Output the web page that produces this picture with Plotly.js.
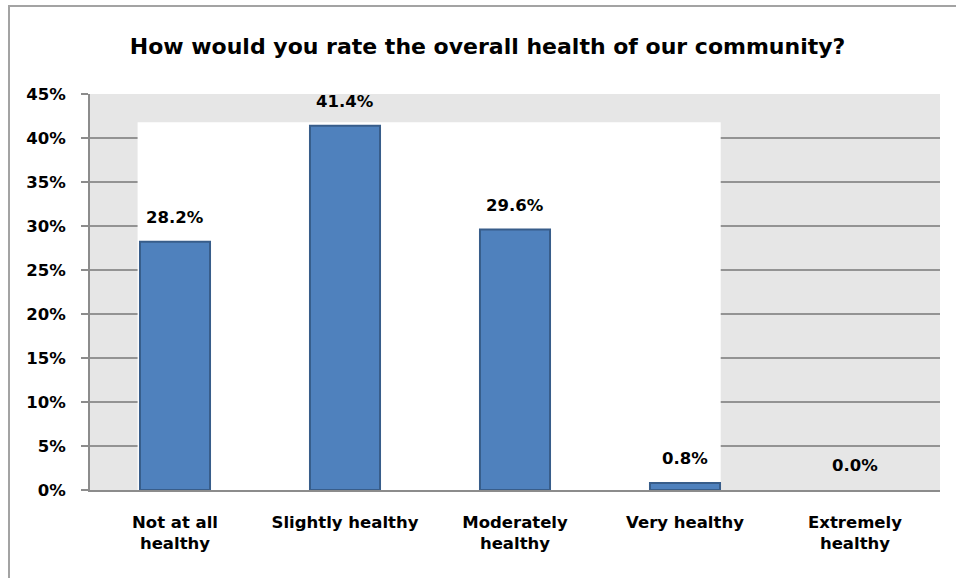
<!DOCTYPE html>
<html>
<head>
<meta charset="utf-8">
<script src="https://cdn.plot.ly/plotly-3.0.1.min.js"></script>
<style>
  html, body { margin: 0; padding: 0; background: #ffffff; overflow: hidden; }
  #chart { width: 956px; height: 578px; position: absolute; left: 0; top: 0; }
  #frame { position: absolute; left: 8px; top: 5px; width: 1200px; height: 1000px;
           border-left: 2px solid #a3a3a3; border-top: 2px solid #a3a3a3; pointer-events: none; }
</style>
</head>
<body>
<div id="chart"></div>
<div id="frame"></div>
<script>
const categories = ["Not at all<br>healthy", "Slightly healthy", "Moderately<br>healthy", "Very healthy", "Extremely<br>healthy"];
const values = [28.2, 41.4, 29.6, 0.8, 0.0];
const labels = ["28.2%", "41.4%", "29.6%", "0.8%", "0.0%"];
const tickVals = [0, 5, 10, 15, 20, 25, 30, 35, 40, 45];
const tickText = ["0%", "5%", "10%", "15%", "20%", "25%", "30%", "35%", "40%", "45%"];

const FONT = "DejaVu Sans, sans-serif";

const trace = {
  type: "bar",
  x: categories,
  y: values,
  marker: {
    color: "#4f81bd",
    line: { color: "#385d8a", width: values.map(v => (v > 0 ? 2 : 0)) }
  },
  hoverinfo: "none"
};

const annotations = categories.map((c, i) => ({
  x: c, y: values[i], xref: "x", yref: "y",
  text: "<b>" + labels[i] + "</b>",
  showarrow: false, yanchor: "bottom", yshift: 13,
  font: { family: FONT, size: 16.5, color: "#000000" }
}));

const layout = {
  width: 956, height: 578,
  margin: { l: 90, r: 16, t: 94, b: 88 },
  paper_bgcolor: "#ffffff",
  plot_bgcolor: "#e6e6e6",
  showlegend: false,
  bargap: 0.588,
  title: {
    text: "<b>How would you rate the overall health of our community?</b>",
    font: { family: FONT, size: 22, color: "#000000" },
    xref: "container", x: 0.51, xanchor: "center",
    yref: "container", y: 1 - 46 / 578, yanchor: "middle"
  },
  xaxis: {
    type: "category",
    showgrid: false,
    showline: true, linecolor: "#8c8c8c", linewidth: 2,
    ticks: "", ticklabelstandoff: 16,
    tickfont: { family: FONT, size: 16.5, color: "#000000", weight: "bold" },
    fixedrange: true
  },
  yaxis: {
    range: [0, 45],
    tickvals: tickVals, ticktext: tickText,
    tickfont: { family: FONT, size: 16.5, color: "#000000", weight: "bold" },
    showgrid: true, gridcolor: "#939393", gridwidth: 2,
    showline: true, linecolor: "#8c8c8c", linewidth: 2,
    ticks: "outside", ticklen: 7, tickcolor: "#8c8c8c", tickwidth: 2,
    ticklabelstandoff: 12,
    zeroline: false,
    fixedrange: true
  },
  shapes: [{
    type: "rect", xref: "x", yref: "y",
    x0: -0.22, x1: 3.21, y0: 0, y1: 41.8,
    fillcolor: "#ffffff", line: { width: 0 }, layer: "between"
  }],
  annotations: annotations
};

Plotly.newPlot("chart", [trace], layout, { displayModeBar: false, staticPlot: true });
</script>
</body>
</html>
